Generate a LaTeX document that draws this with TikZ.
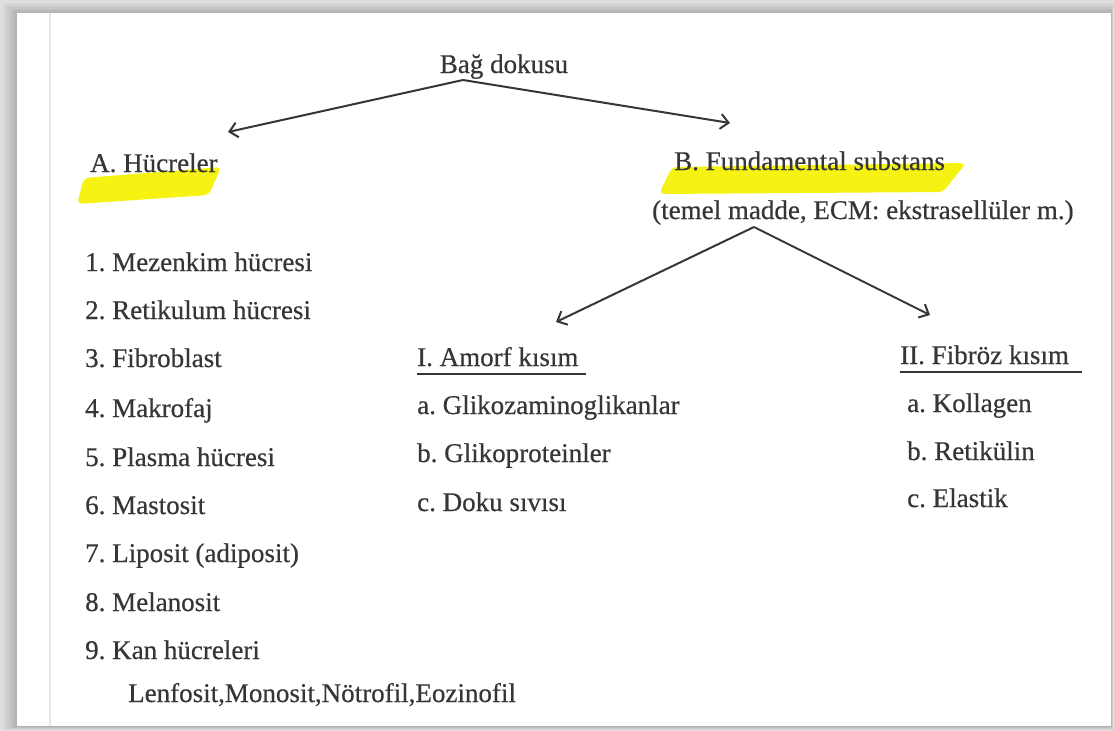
\documentclass[tikz,border=0pt]{standalone}
\usepackage{fontspec}
\setmainfont{Liberation Serif}[FakeBold=0.5]
\usetikzlibrary{arrows.meta}
\definecolor{ink}{HTML}{363636}
\definecolor{hl}{HTML}{F6F212}
\definecolor{margin}{HTML}{E6E6EE}
\tikzset{
  txt/.style={anchor=base west, inner sep=0pt, text=ink, font=\fontsize{27}{30}\selectfont\frenchspacing},
  ctxt/.style={txt, anchor=base},
  conn/.style={draw=ink, line width=2pt, -{Straight Barb[length=8pt,width=15pt]}},
  uline/.style={draw=ink, line width=1.5pt},
  hilite/.style={fill=hl, draw=none, rounded corners=5pt},
}
\begin{document}
\begin{tikzpicture}[x=1pt,y=-1pt]
\useasboundingbox (0,0) rectangle (1114,731);
% page shadow
\fill[gray!25] (0,0) rectangle (1114,731);
\foreach \i in {0,...,7}{
  \pgfmathsetmacro{\k}{8-\i}
  \pgfmathsetmacro{\g}{25+\i*5}
  \fill[gray!\g] (17-\k*2,13-\k*1.5) rectangle (1111+\k*0.35,726+\k*0.6);
}
\fill[white] (17,13) rectangle (1111,726);
\draw[margin, line width=1.2pt] (50,13) -- (50,726);
% highlights
\fill[hilite] (84,178) -- (221,167) -- (209,195) -- (77,204) -- cycle;
\fill[hilite] (672,167) -- (966,163) -- (943,192) -- (659,194) -- cycle;
% headings
\node[ctxt] (root) at (504,73) {Bağ dokusu};
\node[txt] (A) at (90,172) {A. Hücreler};
\node[txt] (B) at (674,170) {B. Fundamental substans};
\node[txt] (Bsub) at (652,219) {(temel madde, ECM: ekstrasellüler m.)};
\node[txt] (I) at (417,366) {I. Amorf kısım};
\node[txt] (II) at (900,364) {II. Fibröz kısım};
% connectors
\coordinate (ap1) at (463,80);
\coordinate (tA) at (228,132);
\coordinate (tB) at (730,123);
\coordinate (ap2) at (754,227);
\coordinate (tI) at (556,322);
\coordinate (tII) at (930,315);
\draw[conn] (ap1) -- (tA);
\draw[conn] (ap1) -- (tB);
\draw[conn] (ap2) -- (tI);
\draw[conn] (ap2) -- (tII);
\coordinate (uI1) at (417,374); \coordinate (uI2) at (586,374);
\coordinate (uII1) at (900,372); \coordinate (uII2) at (1082,372);
\draw[uline] (uI1) -- (uI2);
\draw[uline] (uII1) -- (uII2);
% amorf items
\node[txt] (Ia) at (417,414) {a. Glikozaminoglikanlar};
\node[txt] (Ib) at (417,462) {b. Glikoproteinler};
\node[txt] (Ic) at (417,511) {c. Doku sıvısı};
% fibroz items
\node[txt] (IIa) at (907,412) {a. Kollagen};
\node[txt] (IIb) at (907,460) {b. Retikülin};
\node[txt] (IIc) at (907,507) {c. Elastik};
% cell list
\node[txt] (c1) at (85,271) {1. Mezenkim hücresi};
\node[txt] (c2) at (85,319) {2. Retikulum hücresi};
\node[txt] (c3) at (85,367) {3. Fibroblast};
\node[txt] (c4) at (85,417) {4. Makrofaj};
\node[txt] (c5) at (85,466) {5. Plasma hücresi};
\node[txt] (c6) at (85,514) {6. Mastosit};
\node[txt] (c7) at (85,562) {7. Liposit (adiposit)};
\node[txt] (c8) at (85,611) {8. Melanosit};
\node[txt] (c9) at (85,659) {9. Kan hücreleri};
\node[txt] (c9s) at (128,702) {Lenfosit,Monosit,Nötrofil,Eozinofil};
\end{tikzpicture}
\end{document}
